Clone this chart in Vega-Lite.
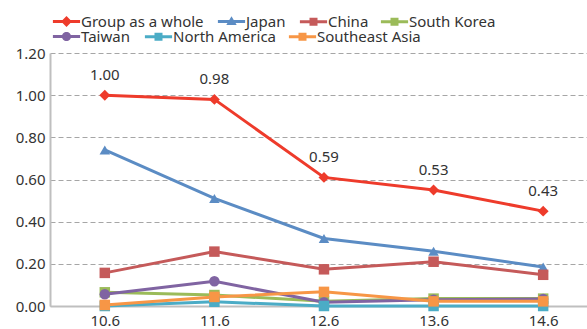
{
  "$schema": "https://vega.github.io/schema/vega-lite/v6.json",
  "width": 537,
  "height": 253,
  "autosize": "none",
  "padding": {"left": 50, "top": 53, "right": 0, "bottom": 23},
  "background": "white",
  "config": {
    "font": "Noto Sans",
    "view": {"stroke": null},
    "legend": {
      "title": null,
      "orient": "none",
      "direction": "horizontal",
      "symbolSize": 64,
      "symbolOffset": 10,
      "symbolStrokeWidth": 0,
      "labelOffset": 7,
      "columnPadding": 8,
      "labelFontSize": 15,
      "labelColor": "#333333",
      "labelLimit": 220
    }
  },
  "data": {
    "values": [
      {"period": 10.6, "series": "Group as a whole", "value": 1.00, "label": "1.00"},
      {"period": 11.6, "series": "Group as a whole", "value": 0.98, "label": "0.98"},
      {"period": 12.6, "series": "Group as a whole", "value": 0.61, "label": "0.59"},
      {"period": 13.6, "series": "Group as a whole", "value": 0.55, "label": "0.53"},
      {"period": 14.6, "series": "Group as a whole", "value": 0.45, "label": "0.43"},
      {"period": 10.6, "series": "Japan", "value": 0.74},
      {"period": 11.6, "series": "Japan", "value": 0.51},
      {"period": 12.6, "series": "Japan", "value": 0.32},
      {"period": 13.6, "series": "Japan", "value": 0.26},
      {"period": 14.6, "series": "Japan", "value": 0.185},
      {"period": 10.6, "series": "China", "value": 0.157},
      {"period": 11.6, "series": "China", "value": 0.258},
      {"period": 12.6, "series": "China", "value": 0.174},
      {"period": 13.6, "series": "China", "value": 0.21},
      {"period": 14.6, "series": "China", "value": 0.148},
      {"period": 10.6, "series": "South Korea", "value": 0.065},
      {"period": 11.6, "series": "South Korea", "value": 0.052},
      {"period": 12.6, "series": "South Korea", "value": 0.022},
      {"period": 13.6, "series": "South Korea", "value": 0.035},
      {"period": 14.6, "series": "South Korea", "value": 0.035},
      {"period": 10.6, "series": "Taiwan", "value": 0.056},
      {"period": 11.6, "series": "Taiwan", "value": 0.117},
      {"period": 12.6, "series": "Taiwan", "value": 0.018},
      {"period": 13.6, "series": "Taiwan", "value": 0.03},
      {"period": 14.6, "series": "Taiwan", "value": 0.033},
      {"period": 10.6, "series": "North America", "value": 0.0},
      {"period": 11.6, "series": "North America", "value": 0.02},
      {"period": 12.6, "series": "North America", "value": 0.0},
      {"period": 13.6, "series": "North America", "value": 0.0},
      {"period": 14.6, "series": "North America", "value": 0.0},
      {"period": 10.6, "series": "Southeast Asia", "value": 0.005},
      {"period": 11.6, "series": "Southeast Asia", "value": 0.043},
      {"period": 12.6, "series": "Southeast Asia", "value": 0.067},
      {"period": 13.6, "series": "Southeast Asia", "value": 0.022},
      {"period": 14.6, "series": "Southeast Asia", "value": 0.022}
    ]
  },
  "encoding": {
    "x": {
      "field": "period",
      "type": "quantitative",
      "scale": {"domain": [10.1, 15.0], "nice": false, "zero": false},
      "axis": {
        "values": [10.6, 11.6, 12.6, 13.6, 14.6],
        "format": ".1f",
        "title": null,
        "grid": false,
        "ticks": false,
        "domainColor": "#bfbfbf",
        "domainWidth": 2,
        "labelFontSize": 15,
        "labelColor": "#333333",
        "labelPadding": 7
      }
    },
    "y": {
      "field": "value",
      "type": "quantitative",
      "scale": {"domain": [0, 1.2], "nice": false},
      "axis": {
        "values": [0, 0.2, 0.4, 0.6, 0.8, 1.0, 1.2],
        "format": ".2f",
        "title": null,
        "ticks": false,
        "grid": true,
        "gridDash": [5, 3],
        "gridColor": "#a6a6a6",
        "gridWidth": 1,
        "domainColor": "#bfbfbf",
        "domainWidth": 2,
        "labelFontSize": 15,
        "labelColor": "#333333",
        "labelPadding": 5
      }
    }
  },
  "layer": [
    {
      "transform": [{"filter": {"field": "series", "equal": "Group as a whole"}}],
      "encoding": {
        "color": {
          "field": "series", "type": "nominal",
          "scale": {"domain": ["Group as a whole"], "range": ["#ee3b2b"]},
          "legend": {
            "legendX": -1, "legendY": -39,
            "symbolType": "M-3.4,-0.4H3.4V0.4H-3.4ZM0,-1.35L1.35,0L0,1.35L-1.35,0Z",
            "symbolFillColor": "#ee3b2b"
          }
        }
      },
      "layer": [
        {"mark": {"type": "line", "strokeWidth": 3}},
        {"mark": {"type": "point", "shape": "diamond", "filled": true, "opacity": 1, "size": 120}}
      ]
    },
    {
      "transform": [{"filter": {"field": "series", "equal": "Japan"}}],
      "encoding": {
        "color": {
          "field": "series", "type": "nominal",
          "scale": {"domain": ["Japan"], "range": ["#5b8cc4"]},
          "legend": {
            "legendX": 164, "legendY": -39,
            "symbolType": "M-3.4,-0.4H3.4V0.4H-3.4ZM0,-1.3L1.3,0.9L-1.3,0.9Z",
            "symbolFillColor": "#5b8cc4"
          }
        }
      },
      "layer": [
        {"mark": {"type": "line", "strokeWidth": 3}},
        {"mark": {"type": "point", "shape": "triangle-up", "filled": true, "opacity": 1, "size": 110}}
      ]
    },
    {
      "transform": [{"filter": {"field": "series", "oneOf": ["China", "South Korea"]}}],
      "encoding": {
        "color": {
          "field": "series", "type": "nominal",
          "sort": ["China", "South Korea"],
          "scale": {"domain": ["China", "South Korea"], "range": ["#c55a5a", "#9bbb59"]},
          "legend": {
            "legendX": 246, "legendY": -39,
            "symbolType": "M-3.4,-0.4H3.4V0.4H-3.4ZM-1,-1H1V1H-1Z"
          }
        }
      },
      "layer": [
        {"mark": {"type": "line", "strokeWidth": 3}},
        {"mark": {"type": "point", "shape": "square", "filled": true, "opacity": 1, "size": 110}}
      ]
    },
    {
      "transform": [{"filter": {"field": "series", "equal": "Taiwan"}}],
      "encoding": {
        "color": {
          "field": "series", "type": "nominal",
          "scale": {"domain": ["Taiwan"], "range": ["#8064a2"]},
          "legend": {
            "legendX": -1, "legendY": -24,
            "symbolType": "M-3.4,-0.4H3.4V0.4H-3.4ZM1.15,0A1.15,1.15,0,1,1,-1.15,0A1.15,1.15,0,1,1,1.15,0Z",
            "symbolFillColor": "#8064a2"
          }
        }
      },
      "layer": [
        {"mark": {"type": "line", "strokeWidth": 3}},
        {"mark": {"type": "point", "shape": "circle", "filled": true, "opacity": 1, "size": 110}}
      ]
    },
    {
      "transform": [{"filter": {"field": "series", "oneOf": ["North America", "Southeast Asia"]}}],
      "encoding": {
        "color": {
          "field": "series", "type": "nominal",
          "sort": ["North America", "Southeast Asia"],
          "scale": {"domain": ["North America", "Southeast Asia"], "range": ["#4bacc6", "#f79646"]},
          "legend": {
            "legendX": 91, "legendY": -24,
            "symbolType": "M-3.4,-0.4H3.4V0.4H-3.4ZM-1,-1H1V1H-1Z"
          }
        }
      },
      "layer": [
        {"mark": {"type": "line", "strokeWidth": 3}},
        {"mark": {"type": "point", "shape": "square", "filled": true, "opacity": 1, "size": 110}}
      ]
    },
    {
      "transform": [{"filter": "datum.label != null"}],
      "mark": {"type": "text", "dy": -20, "fontSize": 15, "color": "#333333"},
      "encoding": {
        "text": {"field": "label"}
      }
    }
  ],
  "resolve": {"scale": {"color": "independent"}}
}
